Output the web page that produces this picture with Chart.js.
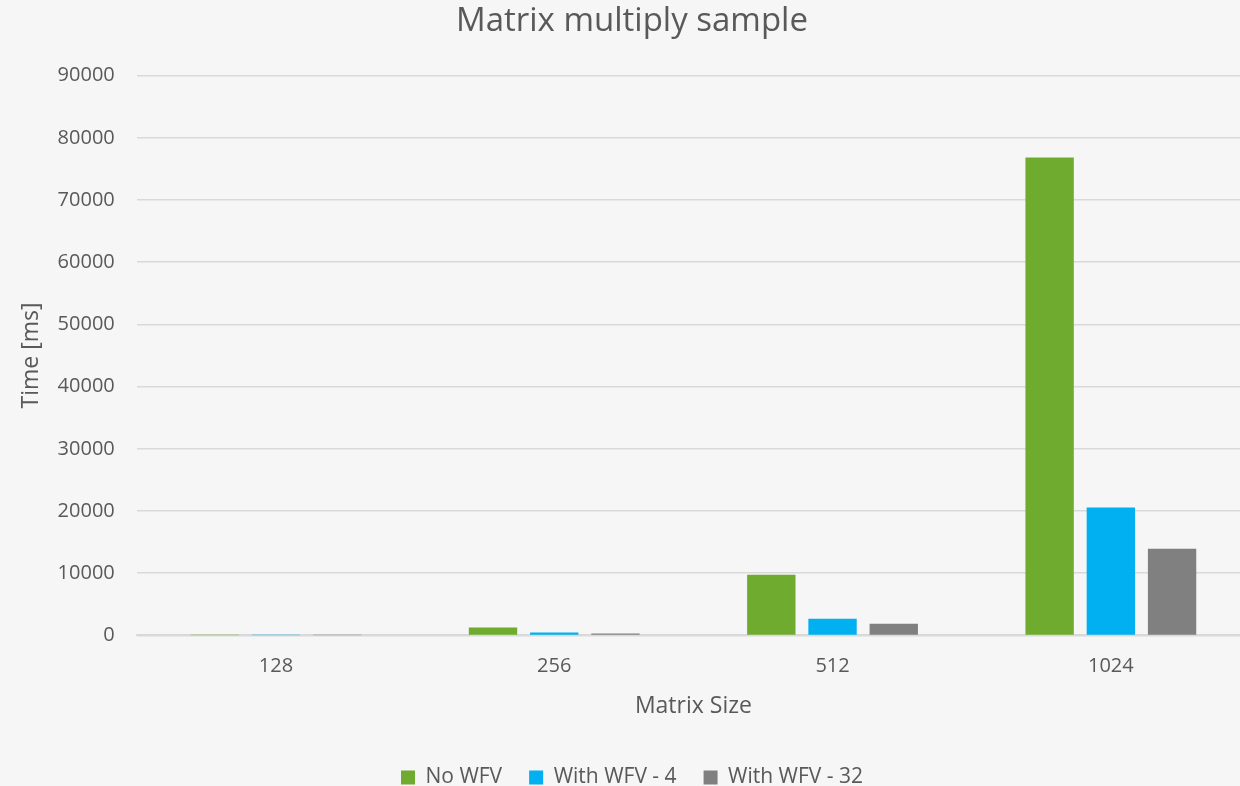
<!DOCTYPE html>
<html>
<head>
<meta charset="utf-8">
<script src="https://cdn.jsdelivr.net/npm/chart.js@4"></script>
<style>
    html, body { margin: 0; padding: 0; background: #f6f6f6; overflow: hidden; }
    #wrap { width: 1260px; height: 798px; }
</style>
</head>
<body>
<div id="wrap"><canvas id="myChart"></canvas></div>
<script>
// --- Chart data ---
const sizes = ["128", "256", "512", "1024"];
const noWfv = [30, 1290, 9750, 76850];
const wfv4 = [15, 480, 2690, 20580];
const wfv32 = [10, 320, 1880, 13940];

const textColor = "#595959";
const fontFamily = "'Open Sans', 'DejaVu Sans', sans-serif";

const ctx = document.getElementById("myChart").getContext("2d");
new Chart(ctx, {
    type: "bar",
    data: {
        labels: sizes,
        datasets: [
            { label: "No WFV", data: noWfv, backgroundColor: "#6fab2f" },
            { label: "With WFV - 4", data: wfv4, backgroundColor: "#00b0f0" },
            { label: "With WFV - 32", data: wfv32, backgroundColor: "#808080" }
        ]
    },
    options: {
        responsive: true,
        maintainAspectRatio: false,
        animation: false,
        layout: { padding: { left: 14, right: 10, top: 0, bottom: 0 } },
        datasets: { bar: { barPercentage: 0.79, categoryPercentage: 0.66 } },
        plugins: {
            title: {
                display: true,
                text: "Matrix multiply sample",
                color: textColor,
                font: { family: fontFamily, size: 33, weight: "normal" },
                padding: { top: 2, bottom: 34 }
            },
            legend: {
                position: "bottom",
                labels: {
                    color: textColor,
                    font: { family: fontFamily, size: 21 },
                    boxWidth: 14,
                    boxHeight: 14,
                    padding: 27
                }
            },
            tooltip: { enabled: false }
        },
        scales: {
            x: {
                grid: { display: false },
                border: { color: "#d9d9d9", width: 2 },
                ticks: { color: textColor, font: { family: fontFamily, size: 20 }, padding: 11 },
                title: {
                    display: true,
                    text: "Matrix Size",
                    color: textColor,
                    font: { family: fontFamily, size: 23 },
                    padding: { top: 3, bottom: 20 }
                }
            },
            y: {
                min: 0,
                max: 90000,
                ticks: {
                    stepSize: 10000,
                    color: textColor,
                    font: { family: fontFamily, size: 20 },
                    padding: 22,
                    callback: (value) => String(value)
                },
                grid: { color: "#d9d9d9", lineWidth: 1.5, drawTicks: false },
                border: { display: false },
                title: {
                    display: true,
                    text: "Time [ms]",
                    color: textColor,
                    font: { family: fontFamily, size: 23 },
                    padding: { top: 4, bottom: -10 }
                }
            }
        }
    }
});
</script>
</body>
</html>
